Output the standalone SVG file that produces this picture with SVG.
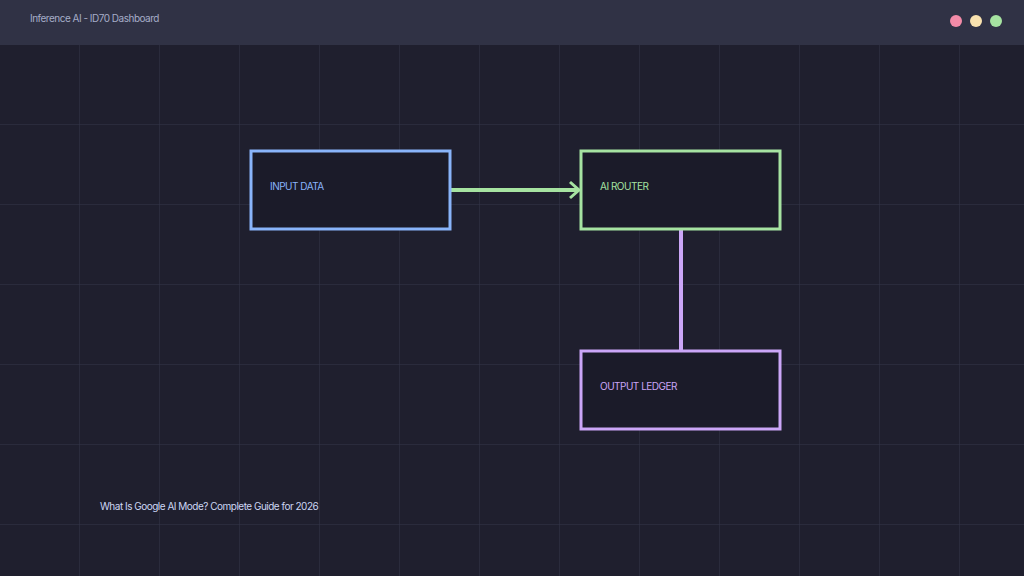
<svg xmlns="http://www.w3.org/2000/svg" width="1024" height="576" viewBox="0 0 1024 576">
<defs>
<pattern id="grid" x="0" y="45" width="80" height="80" patternUnits="userSpaceOnUse">
<path d="M80 0V80M0 80H80" fill="none" stroke="#34354a" stroke-width="1"/>
</pattern>
<marker id="arr" viewBox="0 0 12 20" refX="10" refY="10" markerWidth="12" markerHeight="20" markerUnits="userSpaceOnUse" orient="auto">
<path d="M1 2L10 10L1 18" fill="none" stroke="#a6e3a1" stroke-width="3"/>
</marker>
</defs>
<style>
text{font-family:Inter,"Liberation Sans",sans-serif;font-size:10px;letter-spacing:-0.5px}
.box{fill:#1b1b29;stroke-width:3}
</style>
<rect width="1024" height="576" fill="#1f1f2e"/>
<rect y="45" width="1024" height="531" fill="url(#grid)"/>
<rect width="1024" height="45" fill="#303245"/>
<text x="30" y="22" fill="#a6adc8">Inference AI - ID70 Dashboard</text>
<circle cx="956" cy="21" r="6" fill="#f38ba8"/>
<circle cx="976" cy="21" r="6" fill="#f9e2af"/>
<circle cx="996" cy="21" r="6" fill="#a6e3a1"/>
<g id="connectors">
<line x1="451" y1="190" x2="579" y2="190" stroke="#a6e3a1" stroke-width="4" marker-end="url(#arr)"/>
<line x1="681" y1="230" x2="681" y2="350" stroke="#cba6f7" stroke-width="4"/>
</g>
<g id="input"><rect class="box" x="251" y="151" width="199" height="78" stroke="#89b4fa"/><text x="270" y="190" fill="#89b4fa">INPUT DATA</text></g>
<g id="router"><rect class="box" x="581" y="151" width="199" height="78" stroke="#a6e3a1"/><text x="600" y="190" fill="#a6e3a1">AI ROUTER</text></g>
<g id="output"><rect class="box" x="581" y="351" width="199" height="78" stroke="#cba6f7"/><text x="600" y="390" fill="#cba6f7">OUTPUT LEDGER</text></g>
<text x="100" y="510" fill="#cdd6f4">What Is Google AI Mode? Complete Guide for 2026</text>
</svg>
